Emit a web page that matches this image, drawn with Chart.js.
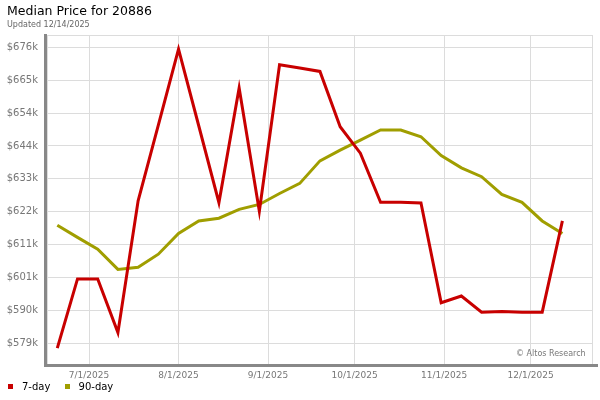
<!DOCTYPE html>
<html>
<head>
<meta charset="utf-8">
<title>Median Price for 20886</title>
<script src="https://cdn.jsdelivr.net/npm/chart.js@4.4.1/dist/chart.umd.min.js"></script>
<style>
  body { margin: 0; background: #fff; }
  #wrap { position: relative; width: 600px; height: 400px; font-family: "DejaVu Sans", sans-serif; }
  #chart { position: absolute; left: 0; top: 0; }
  .title { position: absolute; left: 7px; top: 3px; font-size: 12.5px; color: #000; }
  .sub { position: absolute; left: 7px; top: 20px; font-size: 8px; color: #666; }
  .credit { position: absolute; left: 516px; top: 349px; font-size: 8px; color: #777; }
  .legend { position: absolute; left: 8px; top: 381px; font-size: 10px; color: #000; }
  .legend span.box { display: inline-block; width: 5px; height: 5px; margin-right: 9px; vertical-align: 1px; }
  .legend span.item { margin-right: 11px; }
</style>
</head>
<body>
<div id="wrap">
  <canvas id="chart" width="600" height="400"></canvas>
  <div class="title">Median Price for 20886</div>
  <div class="sub">Updated 12/14/2025</div>
  <div class="credit">© Altos Research</div>
  <div class="legend">
    <span class="box" style="background:#c80000"></span><span class="item">7-day</span>
    <span class="box" style="background:#a09e00"></span><span class="item">90-day</span>
  </div>
</div>
<script>
// weekly data points (Fridays)
const weekDates = ['6/20/2025', '6/27/2025', '7/4/2025', '7/11/2025', '7/18/2025', '7/25/2025',
  '8/1/2025', '8/8/2025', '8/15/2025', '8/22/2025', '8/29/2025', '9/5/2025', '9/12/2025',
  '9/19/2025', '9/26/2025', '10/3/2025', '10/10/2025', '10/17/2025', '10/24/2025', '10/31/2025',
  '11/7/2025', '11/14/2025', '11/21/2025', '11/28/2025', '12/5/2025', '12/12/2025'];

const price7day = [577400, 600100, 600100, 582500, 625700, 650500, 675400, 650300, 625100,
  662700, 622300, 670300, 669200, 668100, 650000, 641300, 625200, 625200, 625000, 592300,
  594500, 589200, 589400, 589200, 589200, 619100];

const price90day = [617700, 613700, 609800, 603200, 603900, 608200, 615000, 619100, 620000,
  622900, 624500, 628100, 631400, 638800, 642300, 645600, 648900, 648900, 646700, 640500,
  636500, 633600, 627800, 625200, 619100, 615000];

// axis ticks
const monthTicks = ['7/1/2025', '8/1/2025', '9/1/2025', '10/1/2025', '11/1/2025', '12/1/2025'];
const priceTicks = [579000, 589780, 600560, 611340, 622120, 632900, 643680, 654460, 665240, 676020];

// days since first point
function dayNum(s) {
  const p = s.split('/').map(Number);
  return (Date.UTC(p[2], p[0] - 1, p[1]) - Date.UTC(2025, 5, 20)) / 86400000;
}

const gridColor = '#dcdcdc';
const axisColor = '#888888';

// plot frame + heavy left/bottom axis lines
const framePlugin = {
  id: 'frame',
  beforeDatasetsDraw(chart) {
    const a = chart.chartArea;
    const ctx = chart.ctx;
    ctx.save();
    ctx.strokeStyle = gridColor;
    ctx.lineWidth = 1;
    ctx.strokeRect(a.left + 0.5, a.top + 0.5, a.right - a.left - 1, a.bottom - a.top);
    ctx.restore();
  },
  afterDraw(chart) {
    const a = chart.chartArea;
    const ctx = chart.ctx;
    ctx.save();
    ctx.strokeStyle = axisColor;
    ctx.lineWidth = 3;
    ctx.beginPath();
    ctx.moveTo(a.left - 1.5, a.top - 1);
    ctx.lineTo(a.left - 1.5, a.bottom + 3);
    ctx.moveTo(a.left - 3, a.bottom + 1.5);
    ctx.lineTo(598, a.bottom + 1.5);
    ctx.stroke();
    ctx.restore();
  }
};

const tickFont = { family: 'DejaVu Sans', size: 10 };

new Chart(document.getElementById('chart'), {
  type: 'line',
  data: {
    datasets: [
      {
        label: '7-day',
        data: weekDates.map((d, i) => ({ x: dayNum(d), y: price7day[i] })),
        borderColor: '#c80000',
        borderWidth: 3,
        pointRadius: 0,
        tension: 0
      },
      {
        label: '90-day',
        data: weekDates.map((d, i) => ({ x: dayNum(d), y: price90day[i] })),
        borderColor: '#a09e00',
        borderWidth: 3,
        pointRadius: 0,
        tension: 0
      }
    ]
  },
  options: {
    responsive: false,
    animation: false,
    devicePixelRatio: 1,
    layout: { padding: { top: 35, right: 7, bottom: 0, left: 0 } },
    plugins: {
      legend: { display: false },
      title: { display: false },
      tooltip: { enabled: false }
    },
    scales: {
      x: {
        type: 'linear',
        min: -3.57,
        max: 185.6,
        afterFit(scale) { scale.height = 36; },
        afterBuildTicks(scale) { scale.ticks = monthTicks.map(t => ({ value: dayNum(t) })); },
        grid: { color: gridColor, drawTicks: false },
        border: { display: false },
        ticks: {
          font: { family: 'DejaVu Sans', size: 9 },
          color: '#777',
          padding: 6,
          maxRotation: 0,
          autoSkip: false,
          callback(v) {
            const i = monthTicks.findIndex(t => dayNum(t) === v);
            return i >= 0 ? monthTicks[i] : '';
          }
        }
      },
      y: {
        min: 572200,
        max: 680050,
        afterFit(scale) { scale.width = 47; },
        afterBuildTicks(scale) { scale.ticks = priceTicks.map(v => ({ value: v })); },
        grid: { color: gridColor, drawTicks: false },
        border: { display: false },
        ticks: {
          font: tickFont,
          color: '#777',
          padding: 9,
          callback(v) { return '$' + Math.round(v / 1000) + 'k'; }
        }
      }
    }
  },
  plugins: [framePlugin]
});
</script>
</body>
</html>
